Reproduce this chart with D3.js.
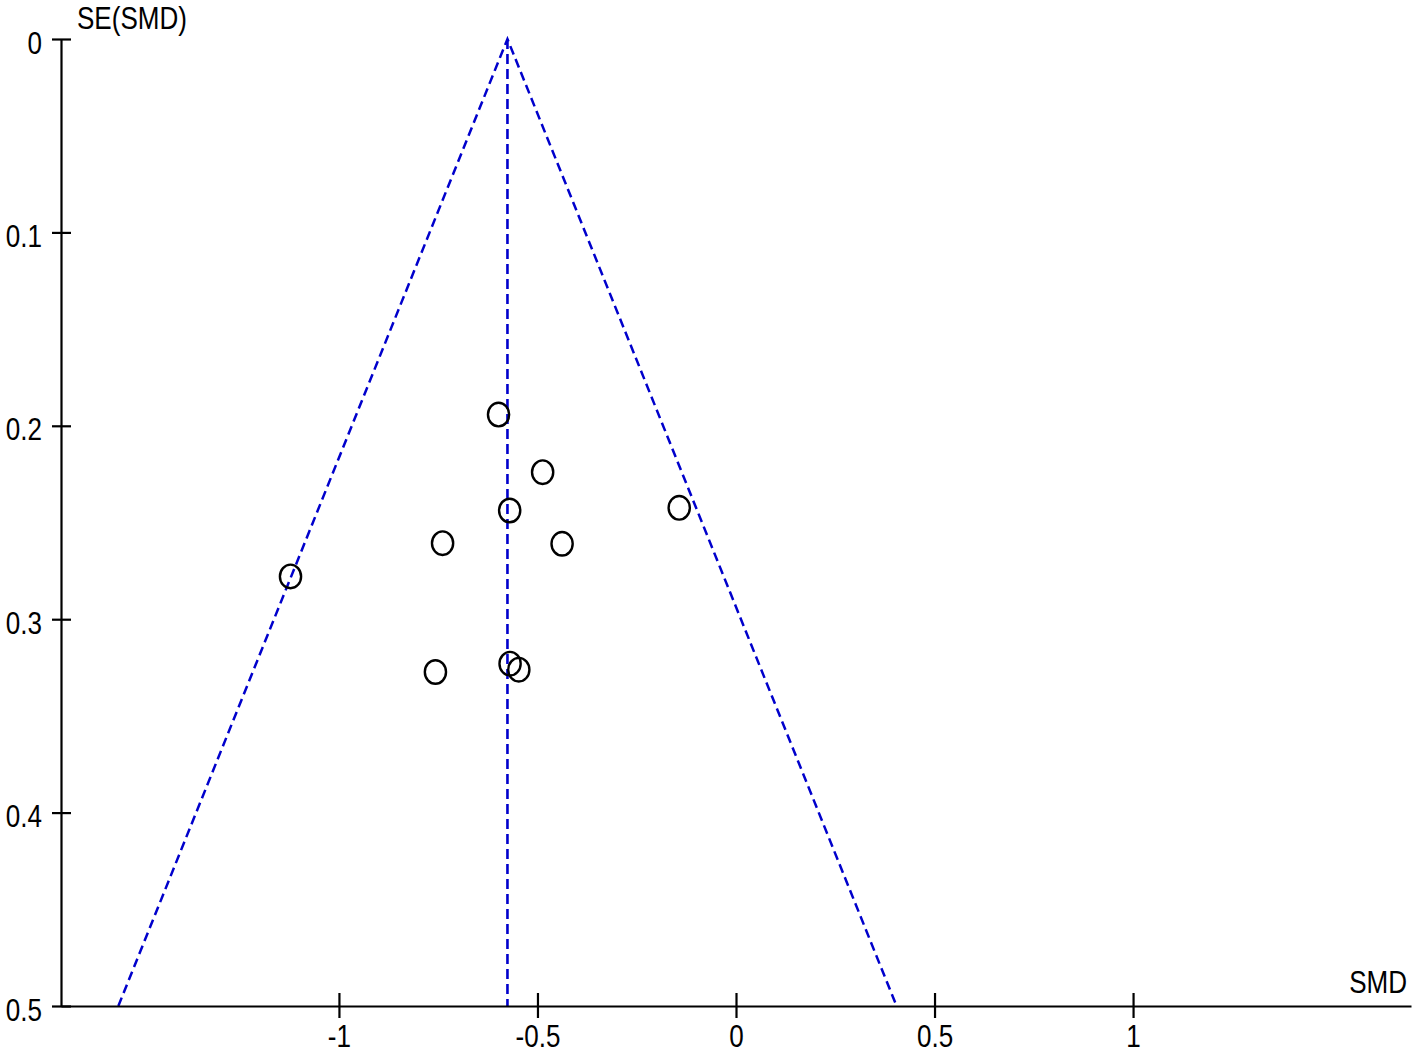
<!DOCTYPE html>
<html><head><meta charset="utf-8">
<script src="https://cdn.jsdelivr.net/npm/d3@7"></script>
<style>
html,body{margin:0;padding:0;background:#fff;}
svg text{font-family:"Liberation Sans",Arial,sans-serif;font-size:31px;fill:#000;}
</style></head>
<body>
<svg id="c" width="1418" height="1057"></svg>
<script>
const smd = [-0.598, -0.487, -0.570, -0.143, -0.739, -0.438, -1.122, -0.757, -0.569, -0.547];
const se  = [0.1942, 0.2240, 0.2438, 0.2424, 0.2607, 0.2610, 0.2779, 0.3273, 0.3230, 0.3261];
const pooled = -0.5756;
const xTicks = [-1, -0.5, 0, 0.5, 1];
const xTickLabels = ["-1", "-0.5", "0", "0.5", "1"];
const yTicks = [0, 0.1, 0.2, 0.3, 0.4, 0.5];
const yTickLabels = ["0", "0.1", "0.2", "0.3", "0.4", "0.5"];
const seMax = 0.5;

const svg = d3.select("#c");
const x = d3.scaleLinear().domain([-1.7, 1.7]).range([61, 1411]);
const y = d3.scaleLinear().domain([0, 0.5]).range([39, 1006]);

// funnel
const blue = "#0000cc";
const g = svg.append("g");
g.append("path")
  .attr("d", d3.line()([[x(pooled - 1.96*seMax), y(seMax)], [x(pooled), y(0)], [x(pooled + 1.96*seMax), y(seMax)]]))
  .attr("fill", "none").attr("stroke", blue).attr("stroke-width", 2.5).attr("stroke-dasharray", "9,5");
g.append("line")
  .attr("x1", x(pooled)).attr("x2", x(pooled)).attr("y1", y(0)).attr("y2", y(seMax))
  .attr("stroke", blue).attr("stroke-width", 2.6).attr("stroke-dasharray", "10,5");

// axes
const yAxis = d3.axisLeft(y).tickValues(yTicks).tickFormat((d,i)=>yTickLabels[i]).tickSizeOuter(0).tickSizeInner(9).tickPadding(10);
const yg = svg.append("g").attr("transform", `translate(${x(-1.7)},0)`).call(yAxis);
yg.selectAll(".tick line").attr("x1", 10).attr("x2", -9);
yg.selectAll(".tick text").attr("dy", 0).attr("y", 14);
const xAxis = d3.axisBottom(x).tickValues(xTicks).tickFormat((d,i)=>xTickLabels[i]).tickSizeOuter(0).tickSizeInner(12).tickPadding(6);
const xg = svg.append("g").attr("transform", `translate(0,${y(0.5)})`).call(xAxis);
xg.selectAll(".tick line").attr("y1", -13).attr("y2", 12);
xg.selectAll(".tick text").attr("dy", 0).attr("y", 41);
[yg, xg].forEach(a => {
  a.select(".domain").attr("stroke", "#000").attr("stroke-width", 2.2);
  a.selectAll(".tick line").attr("stroke", "#000").attr("stroke-width", 2.2);
  a.selectAll("text").attr("font-size", null).attr("font-family", null).attr("fill", "#000");
});

// axis titles
svg.append("text").attr("x", 77).attr("y", 29).text("SE(SMD)");
svg.append("text").attr("x", 1407).attr("y", 993).attr("text-anchor", "end").text("SMD");

// condense all text (reference uses a narrow bitmap font)
svg.selectAll("text").each(function() {
  const w = this.getComputedTextLength();
  d3.select(this).attr("textLength", w * 0.84).attr("lengthAdjust", "spacingAndGlyphs");
});

// points
svg.append("g").selectAll("ellipse").data(smd).join("ellipse")
  .attr("cx", d => x(d)).attr("cy", (d,i) => y(se[i])).attr("rx", 10.6).attr("ry", 11.8)
  .attr("fill", "none").attr("stroke", "#000").attr("stroke-width", 2.4);
</script>
</body></html>
